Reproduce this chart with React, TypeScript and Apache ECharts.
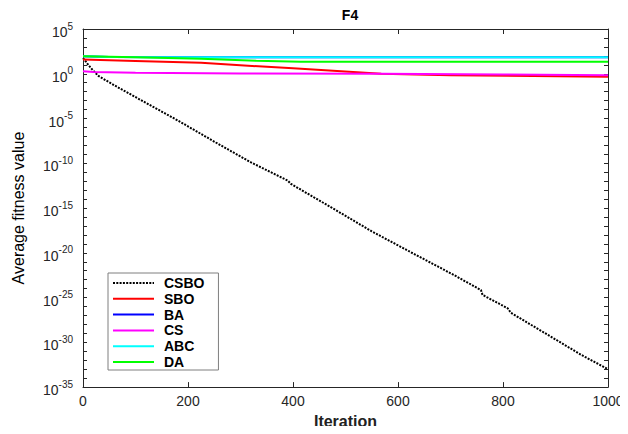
import React, { useEffect, useRef } from "react";
import * as echarts from "echarts";

const seriesNames = ["CSBO", "SBO", "BA", "CS", "ABC", "DA"];
const seriesColors = ["#000000", "#FF0000", "#0000FF", "#FF00FF", "#00FFFF", "#00FF00"];

const csboIter = [0, 5, 10, 20, 30, 60, 119, 180, 253, 320, 390, 396, 472, 550, 620, 707, 758, 761, 809, 815, 885, 949, 1000];
const csboVals = [5.6e1, 2.5e1, 1e1, 2e0, 5.4e-1, 5e-2, 6e-4, 6.3e-6, 2.1e-8, 1.26e-10, 1.17e-12, 5e-13, 1.26e-15, 2.5e-18, 1.6e-20, 3.2e-23, 6.9e-25, 2e-25, 6.3e-27, 2e-27, 7.1e-30, 4e-32, 1e-33];

const sboIter = [0, 100, 225, 400, 568, 700, 1000];
const sboVals = [39, 27, 16.6, 4, 1.0, 0.7, 0.47];

const baIter = [0, 50, 200, 1000];
const baVals = [91, 76, 71, 69];

const csIter = [0, 20, 100, 300, 568, 800, 1000];
const csVals = [1.95, 1.6, 1.26, 1.1, 1.0, 0.83, 0.69];

const abcIter = [0, 50, 200, 1000];
const abcVals = [91, 76, 71, 69];

const daIter = [0, 100, 225, 330, 415, 1000];
const daVals = [91, 71, 47, 28, 22, 21.4];

const xTicks = { min: 0, max: 1000, interval: 200 };
// y axis in decades (exponent of 10)
const yDecades = { min: -35, max: 5, interval: 5 };

const iters = [csboIter, sboIter, baIter, csIter, abcIter, daIter];
const vals = [csboVals, sboVals, baVals, csVals, abcVals, daVals];

const FONT = "'Liberation Sans', Arial, sans-serif";
const AX = "#262626";

export default function App() {
  const ref = useRef<HTMLDivElement>(null);
  useEffect(() => {
    if (!ref.current) return;
    const chart = echarts.init(ref.current, undefined, { renderer: "svg" });
    const logLabel = (v: number) => `{b|10}{s|${Math.round(v)}}`;
    const yBase = {
      type: "value" as const,
      min: yDecades.min,
      max: yDecades.max,
      interval: yDecades.interval,
      splitLine: { show: false },
      axisLine: { show: true, onZero: false, lineStyle: { color: AX, width: 1 } },
      axisTick: { show: true, inside: true, length: 4, lineStyle: { color: AX } },
      minorTick: { show: true, splitNumber: 5, length: 4, lineStyle: { color: AX } },
    };
    const xBase = {
      type: "value" as const,
      min: xTicks.min,
      max: xTicks.max,
      interval: xTicks.interval,
      splitLine: { show: false },
      axisLine: { show: true, onZero: false, lineStyle: { color: AX, width: 1 } },
      axisTick: { show: true, inside: true, length: 5, lineStyle: { color: AX } },
    };
    const series = seriesNames.map((name, i) => ({
      name,
      type: "line" as const,
      data: iters[i].map((x, j) => [x, Math.log10(vals[i][j])]),
      symbol: "none",
      showSymbol: false,
      smooth: false,
      lineStyle:
        i === 0
          ? { color: seriesColors[i], width: 2, type: [2, 1.3] as any, cap: "butt" as const }
          : { color: seriesColors[i], width: 2 },
      itemStyle: { color: seriesColors[i] },
    }));
    chart.setOption({
      animation: false,
      backgroundColor: "#ffffff",
      title: {
        text: "F4",
        left: 345,
        top: 3,
        textAlign: "center",
        textStyle: { fontFamily: FONT, fontSize: 14, fontWeight: "bold", color: "#000" },
      },
      grid: { left: 83, right: 20, top: 29, bottom: 44 },
      legend: {
        orient: "vertical",
        left: 108,
        top: 273,
        itemWidth: 41,
        itemHeight: 14,
        itemGap: 1.8,
        padding: [3, 14, 1, 4],
        backgroundColor: "#ffffff",
        borderColor: "#7f7f7f",
        borderWidth: 1,
        itemStyle: { opacity: 0 },
        data: seriesNames,
        textStyle: { fontFamily: FONT, fontSize: 14, lineHeight: 14, fontWeight: "bold", color: "#000", padding: [0, 0, 0, 5] },
      },
      xAxis: [
        {
          ...xBase,
          name: "Iteration",
          nameLocation: "middle",
          nameGap: 23,
          nameTextStyle: { fontFamily: FONT, fontSize: 16, fontWeight: "bold", color: "#222" },
          axisLabel: { fontFamily: FONT, fontSize: 14, color: AX, margin: 7, formatter: (v: number) => String(v) },
        },
        {
          ...xBase,
          position: "top",
          axisLabel: { show: false },
        },
      ],
      yAxis: [
        {
          ...yBase,
          name: "Average fitness value",
          nameLocation: "middle",
          nameGap: 57,
          nameTextStyle: { fontFamily: FONT, fontSize: 16, color: "#000" },
          axisLabel: {
            formatter: logLabel,
            margin: 10,
            rich: {
              b: { fontFamily: FONT, fontSize: 14, color: AX, padding: [6, 0, 0, 0] },
              s: { fontFamily: FONT, fontSize: 10, color: AX, padding: [0, 0, 6, 0] },
            },
          },
        },
        {
          ...yBase,
          position: "right",
          axisLabel: { show: false },
        },
      ],
      series,
    });
    return () => chart.dispose();
  }, []);
  return <div ref={ref} style={{ width: 628, height: 434, margin: -8 }} />;
}
